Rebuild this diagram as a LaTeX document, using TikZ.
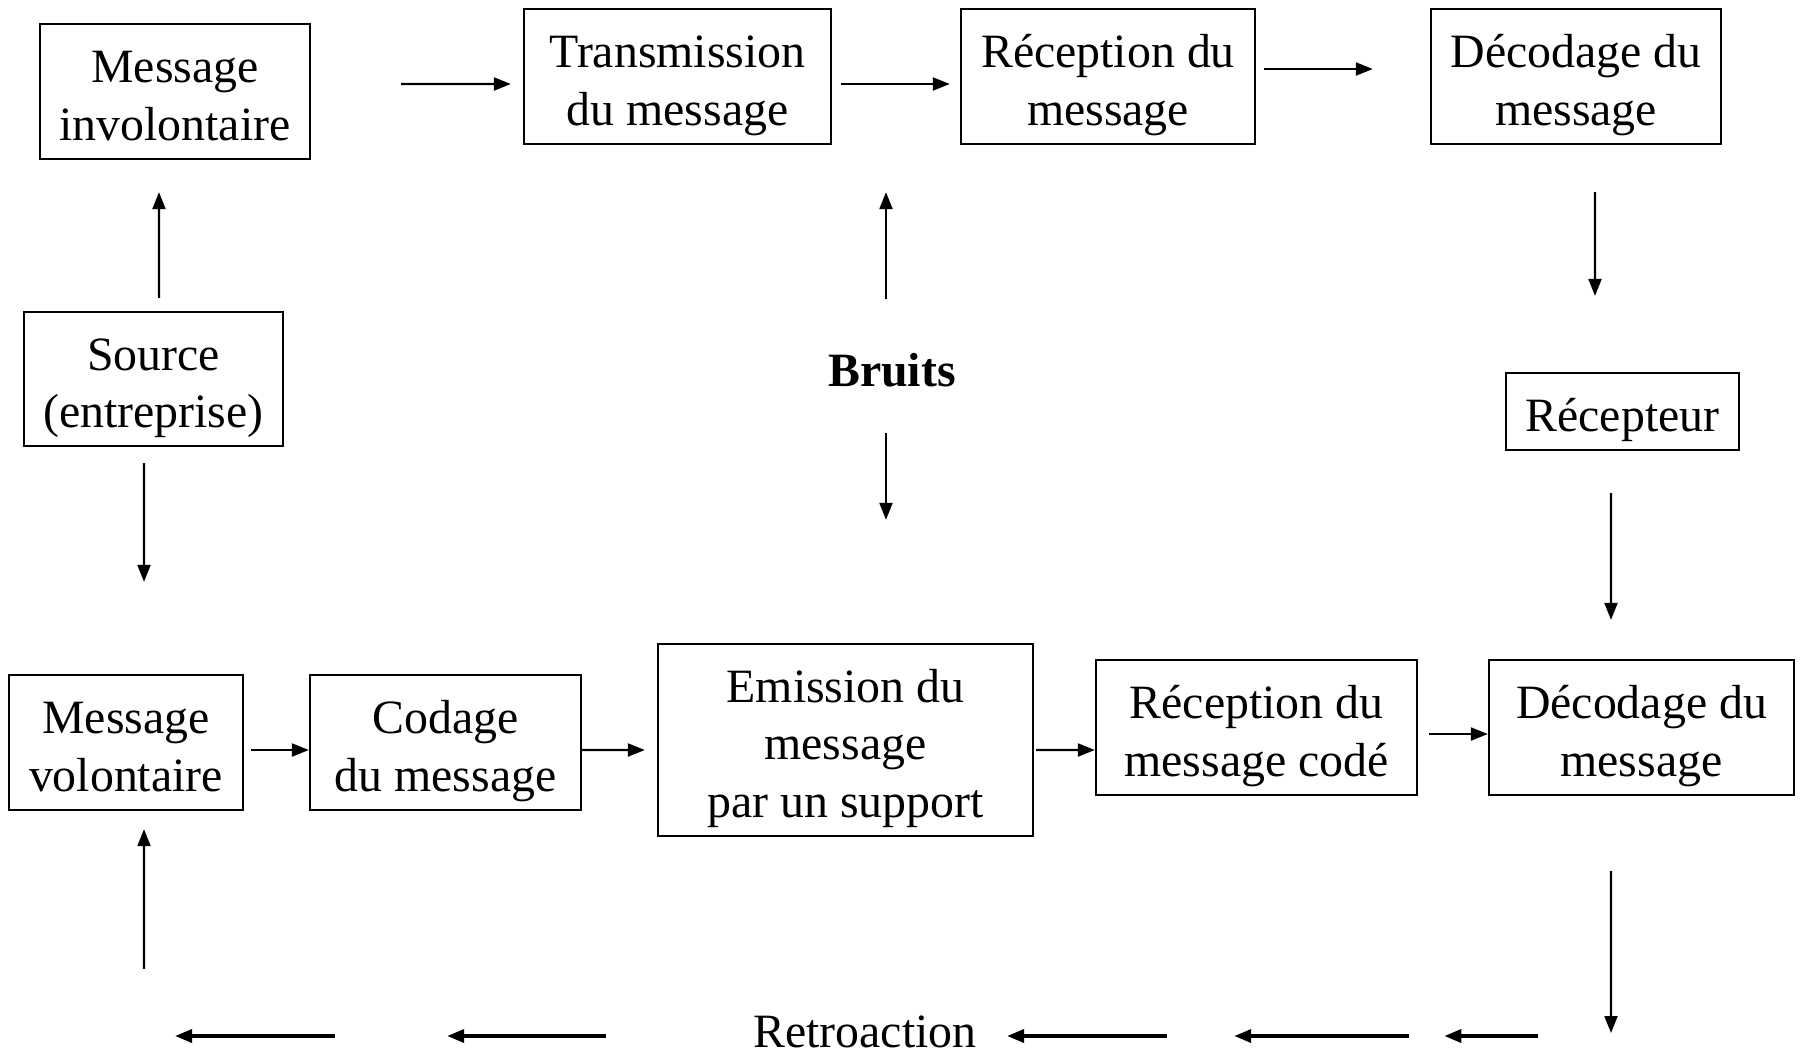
\documentclass[tikz,border=0pt]{standalone}
\usepackage{fontspec}
\setmainfont{Liberation Serif}
\usetikzlibrary{arrows.meta}

\begin{document}
\begin{tikzpicture}[x=0.01cm, y=-0.01cm, align=center, font=\fontsize{13.6}{16.3}\selectfont,
    box/.style={draw, line width=0.6pt, inner sep=0pt, minimum height=1.35cm, text height=29.3pt, text depth=1.7pt},
    arr/.style={line width=0.6pt, -{Triangle[length=0.17cm, width=0.13cm]}},
    retarr/.style={line width=1pt, -{Triangle[length=0.17cm, width=0.13cm]}}]
    \useasboundingbox (0,0) rectangle (1803,1054);

    %ligne du haut
    \node[box, minimum width=2.70cm] (mi)  at (175,91.5)   {Message\\involontaire};
    \node[box, minimum width=3.07cm] (tr)  at (677.5,76.5) {Transmission\\du message};
    \node[box, minimum width=2.94cm] (rm)  at (1108,76.5)  {Réception du\\message};
    \node[box, minimum width=2.90cm] (dt)  at (1576,76.5)  {Décodage du\\message};
    %milieu
    \node[box, minimum width=2.59cm, minimum height=1.34cm] (src) at (153.5,379) {Source\\(entreprise)};
    \node[inner sep=0pt, minimum height=1.4cm, font=\fontsize{13.6}{16.3}\selectfont\bfseries] (br) at (892,370) {Bruits};
    \node[box, minimum width=2.33cm, minimum height=0.77cm, text height=13pt] (rc) at (1622.5,411.5) {Récepteur};
    %ligne du bas
    \node[box, minimum width=2.34cm] (mv)  at (126,742.5)    {Message\\volontaire};
    \node[box, minimum width=2.71cm] (cd)  at (445.5,742.5)  {Codage\\du message};
    \node[box, minimum width=3.75cm, minimum height=1.92cm, text height=45.6pt] (em) at (845.5,740) {Emission du\\message\\par un support};
    \node[box, minimum width=3.21cm] (rcc) at (1256.5,727.5) {Réception du\\message codé};
    \node[box, minimum width=3.05cm] (db)  at (1641.5,727.5) {Décodage du\\message};
    %retroaction
    \node[inner sep=0pt] (ret) at (865,1032) {Retroaction};
    \coordinate (fb) at (1611,1036);
    \coordinate (fa) at (144,1036);

    \draw[arr, shorten <=0.9cm, shorten >=0.12cm] ([yshift=0.075cm]mi.east) -- ([yshift=-0.075cm]tr.west);
    \draw[arr, shorten <=0.09cm, shorten >=0.10cm] ([yshift=-0.075cm]tr.east) -- ([yshift=-0.075cm]rm.west);
    \draw[arr, shorten <=0.08cm, shorten >=0.57cm] ([yshift=0.075cm]rm.east) -- ([yshift=0.075cm]dt.west);
    \draw[arr, shorten <=0.13cm, shorten >=0.32cm] ([xshift=0.055cm]src.north) -- ([xshift=-0.16cm]mi.south);
    \draw[arr, shorten <=0.16cm, shorten >=0.92cm] ([xshift=-0.095cm]src.south) -- ([xshift=0.18cm]mv.north);
    \draw[arr, shorten >=0.47cm] ([xshift=-0.06cm]br.north) -- ([xshift=-0.06cm]br.north |- tr.south);
    \draw[arr, shorten >=1.23cm] ([xshift=-0.06cm, yshift=0.08cm]br.south) -- ([xshift=-0.06cm]br.south |- em.north);
    \draw[arr, shorten <=0.47cm, shorten >=0.76cm] ([xshift=0.19cm]dt.south) -- ([xshift=-0.275cm]rc.north);
    \draw[arr, shorten <=0.42cm, shorten >=0.39cm] ([xshift=-0.115cm]rc.south) -- ([xshift=-0.305cm]db.north);
    \draw[arr, shorten <=0.07cm] ([yshift=-0.075cm]mv.east) -- ([yshift=-0.075cm]cd.west);
    \draw[arr, shorten >=0.12cm] ([yshift=-0.075cm]cd.east) -- ([yshift=-0.10cm]em.west);
    \draw[arr, shorten <=0.02cm] ([yshift=-0.10cm]em.east) -- ([yshift=-0.225cm]rcc.west);
    \draw[arr, shorten <=0.11cm] ([yshift=-0.065cm]rcc.east) -- ([yshift=-0.065cm]db.west);
    \draw[arr, shorten <=0.75cm, shorten >=0.03cm] ([xshift=-0.305cm]db.south) -- (fb);

    \draw[retarr, shorten <=0.73cm, shorten >=5.79cm] (fb) -- (ret.center |- fb);
    \draw[retarr, shorten <=2.02cm, shorten >=3.69cm] (fb) -- (ret.center |- fb);
    \draw[retarr, shorten <=4.44cm, shorten >=1.42cm] (fb) -- (ret.center |- fb);
    \draw[retarr, shorten <=2.59cm, shorten >=3.03cm] (ret.center |- fa) -- (fa);
    \draw[retarr, shorten <=5.30cm, shorten >=0.31cm] (ret.center |- fa) -- (fa);
    \draw[arr, shorten <=0.67cm, shorten >=0.18cm] (fa) -- ([xshift=0.18cm]mv.south);
\end{tikzpicture}
\end{document}
